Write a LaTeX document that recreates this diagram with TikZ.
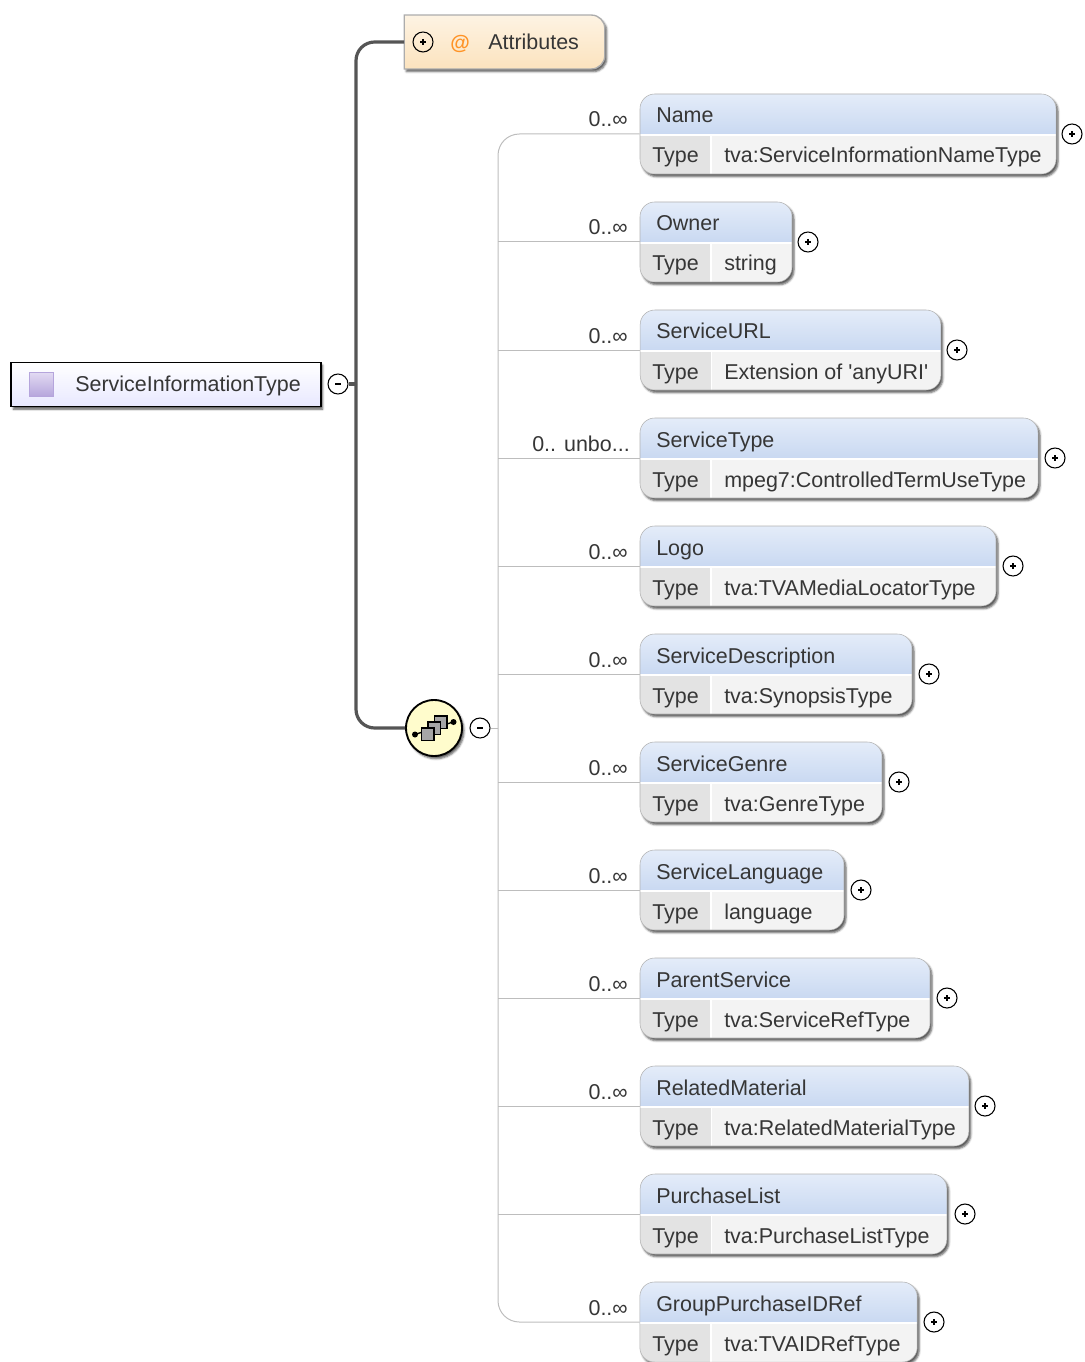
\documentclass[tikz,border=0pt]{standalone}
\usepackage{fontspec}
\setmainfont{Liberation Sans}
\usetikzlibrary{shadows.blur}
\definecolor{inktext}{HTML}{363636}
\definecolor{headtop}{HTML}{E4ECF9}
\definecolor{headbot}{HTML}{AFC6EA}
\definecolor{bodygrey}{HTML}{F3F3F3}
\definecolor{cellgrey}{HTML}{E3E3E3}
\definecolor{trunkgrey}{HTML}{555555}
\definecolor{branchgrey}{HTML}{BDBDBD}
\definecolor{icontop}{HTML}{E2DAF2}
\definecolor{iconbot}{HTML}{B5A5DC}
\definecolor{attrtop}{HTML}{FDF3E3}
\definecolor{attrbot}{HTML}{FCE3BE}
\tikzset{
softshadow/.style={blur shadow={shadow xshift=1.5pt,shadow yshift=-2pt,shadow blur radius=1.5pt,shadow opacity=65}},
elembox/.style={draw=gray!60,rounded corners=11pt,minimum height=60pt,inner sep=0pt,fill=bodygrey,softshadow,
  path picture={
    \shade[sharp corners,top color=headtop,bottom color=headbot](path picture bounding box.north west) rectangle ([yshift=-0.75pt]path picture bounding box.east);
    \fill[sharp corners,cellgrey](path picture bounding box.south west) rectangle ++(71,-40);
    \draw[sharp corners,white,line width=1pt]([yshift=-0.75pt]path picture bounding box.west) -- ([yshift=-0.75pt]path picture bounding box.east);
    \draw[sharp corners,white,line width=1pt](path picture bounding box.south west) ++(71,0) -- ++(0,-40);
  }},
elemtext/.style={anchor=base west,inner sep=0pt,text=inktext,font=\fontsize{16.1}{18}\selectfont},
occtext/.style={elemtext,anchor=base east},
plusbtn/.style={draw=black,thick,circle,fill=white,minimum size=15pt,inner sep=0pt,
  path picture={\draw[line width=0.8pt](path picture bounding box.center) +(-3,0) -- +(3,0) +(0,-3) -- +(0,3);}},
minusbtn/.style={draw=black,thick,circle,fill=white,minimum size=15pt,inner sep=0pt,
  path picture={\draw[line width=0.8pt](path picture bounding box.center) +(-3,0) -- +(3,0);}},
trunk/.style={draw=trunkgrey,line width=2.4pt,rounded corners=14pt},
branch/.style={draw=branchgrey,line width=0.75pt,rounded corners=16pt},
}
\begin{document}
\begin{tikzpicture}[x=0.75pt,y=-0.75pt]
\useasboundingbox(0,0) rectangle (1084,1362);
\coordinate(trunkpt) at (356,384);
\coordinate(barpt) at (498,728);
% left side
\draw(166,384.5)node[draw=black,line width=1.4pt,minimum width=232pt,minimum height=33pt,inner sep=0pt,top color=white,bottom color=blue!9,softshadow](root){} (41.5,384.5)node[draw=iconbot,minimum size=18pt,inner sep=0pt,top color=icontop,bottom color=iconbot](rooticon){} (75,391)node[elemtext](roottext){ServiceInformationType} (338,384)node[minusbtn](rootminus){};
\node[minimum width=150pt,minimum height=40pt,inner sep=0pt](attr) at (504.5,42){};
\draw[draw=gray!65,line width=1pt,top color=attrtop,bottom color=attrbot,softshadow](attr.north west) {[rounded corners=10pt] -- (attr.north east) -- (attr.south east)} -- (attr.south west) -- cycle;
\draw(423,42)node[plusbtn,fill=none](attrplus){} (460,44)node[text=orange!85,font=\bfseries\fontsize{15}{18}\selectfont,inner sep=0pt](attricon){@} (488,50)node[elemtext](attrtext){Attributes};
\draw(434,728)node[draw=black,line width=1.4pt,circle,minimum size=42pt,inner sep=0pt,fill=yellow!20,softshadow](seq){} (480,728)node[minusbtn,fill=none](seqminus){};
\draw[line width=1pt](415,734.5) -- (453,722);
\fill(415,734.5) circle (3) (453.5,722) circle (3);
\draw[fill=gray!70,line width=0.9pt](434.5,716) rectangle ++(12.5,12.5);
\draw[fill=gray!70,line width=0.9pt](428,722) rectangle ++(12.5,12.5);
\draw[fill=gray!70,line width=0.9pt](421.5,728) rectangle ++(12.5,12.5);
\draw[trunk,rounded corners=0pt](rootminus) -- (trunkpt);
\draw[trunk](attr.west) -| (trunkpt);
\draw[trunk](seq.west) -| (trunkpt);
\draw[branch](seqminus) -- (barpt);
% child elements
\draw(848,134)node[elembox,minimum width=312pt](nm){} (656,123)node[elemtext](nmtitle){Name} (652,163)node[elemtext](nmtype){Type} (724,163)node[elemtext](nmval){tva:ServiceInformationNameType} (1072,134)node[plusbtn](nmplus){} (628,127)node[occtext](nmocc){0..∞};
\draw(716,242)node[elembox,minimum width=114pt](ow){} (656,231)node[elemtext](owtitle){Owner} (652,271)node[elemtext](owtype){Type} (724,271)node[elemtext](owval){string} (808,242)node[plusbtn](owplus){} (628,235)node[occtext](owocc){0..∞};
\draw(790.5,350)node[elembox,minimum width=225.5pt](ur){} (656,339)node[elemtext](urtitle){ServiceURL} (652,379)node[elemtext](urtype){Type} (724,379)node[elemtext](urval){Extension of \textquotesingle anyURI\textquotesingle} (957,350)node[plusbtn](urplus){} (628,343)node[occtext](urocc){0..∞};
\draw(839,458)node[elembox,minimum width=298.5pt](st){} (656,447)node[elemtext](sttitle){ServiceType} (652,487)node[elemtext](sttype){Type} (724,487)node[elemtext](stval){mpeg7:ControlledTermUseType} (1055,458)node[plusbtn](stplus){} (630,451)node[occtext](stocc){0.. unbo...};
\draw(818,566)node[elembox,minimum width=267pt](lg){} (656,555)node[elemtext](lgtitle){Logo} (652,595)node[elemtext](lgtype){Type} (724,595)node[elemtext](lgval){tva:TVAMediaLocatorType} (1013,566)node[plusbtn](lgplus){} (628,559)node[occtext](lgocc){0..∞};
\draw(776,674)node[elembox,minimum width=204pt](ds){} (656,663)node[elemtext](dstitle){ServiceDescription} (652,703)node[elemtext](dstype){Type} (724,703)node[elemtext](dsval){tva:SynopsisType} (929,674)node[plusbtn](dsplus){} (628,667)node[occtext](dsocc){0..∞};
\draw(761,782)node[elembox,minimum width=181.5pt](gn){} (656,771)node[elemtext](gntitle){ServiceGenre} (652,811)node[elemtext](gntype){Type} (724,811)node[elemtext](gnval){tva:GenreType} (899,782)node[plusbtn](gnplus){} (628,775)node[occtext](gnocc){0..∞};
\draw(742,890)node[elembox,minimum width=153pt](lc){} (656,879)node[elemtext](lctitle){ServiceLanguage} (652,919)node[elemtext](lctype){Type} (724,919)node[elemtext](lcval){language} (861,890)node[plusbtn](lcplus){} (628,883)node[occtext](lcocc){0..∞};
\draw(785,998)node[elembox,minimum width=217.5pt](ps){} (656,987)node[elemtext](pstitle){ParentService} (652,1027)node[elemtext](pstype){Type} (724,1027)node[elemtext](psval){tva:ServiceRefType} (947,998)node[plusbtn](psplus){} (628,991)node[occtext](psocc){0..∞};
\draw(804.5,1106)node[elembox,minimum width=246.5pt](rm){} (656,1095)node[elemtext](rmtitle){RelatedMaterial} (652,1135)node[elemtext](rmtype){Type} (724,1135)node[elemtext](rmval){tva:RelatedMaterialType} (985,1106)node[plusbtn](rmplus){} (628,1099)node[occtext](rmocc){0..∞};
\draw(793.5,1214)node[elembox,minimum width=230pt](pl){} (656,1203)node[elemtext](pltitle){PurchaseList} (652,1243)node[elemtext](pltype){Type} (724,1243)node[elemtext](plval){tva:PurchaseListType} (965,1214)node[plusbtn](plplus){};
\draw(778.5,1322)node[elembox,minimum width=208pt](gp){} (656,1311)node[elemtext](gptitle){GroupPurchaseIDRef} (652,1351)node[elemtext](gptype){Type} (724,1351)node[elemtext](gpval){tva:TVAIDRefType} (934,1322)node[plusbtn](gpplus){} (628,1315)node[occtext](gpocc){0..∞};
% branches
\draw[branch](nm.west) -| (barpt);
\draw[branch](gp.west) -| (barpt);
\draw[branch](ow.west) -- (ow.west -| barpt);
\draw[branch](ur.west) -- (ur.west -| barpt);
\draw[branch](st.west) -- (st.west -| barpt);
\draw[branch](lg.west) -- (lg.west -| barpt);
\draw[branch](ds.west) -- (ds.west -| barpt);
\draw[branch](gn.west) -- (gn.west -| barpt);
\draw[branch](lc.west) -- (lc.west -| barpt);
\draw[branch](ps.west) -- (ps.west -| barpt);
\draw[branch](rm.west) -- (rm.west -| barpt);
\draw[branch](pl.west) -- (pl.west -| barpt);
\end{tikzpicture}
\end{document}
